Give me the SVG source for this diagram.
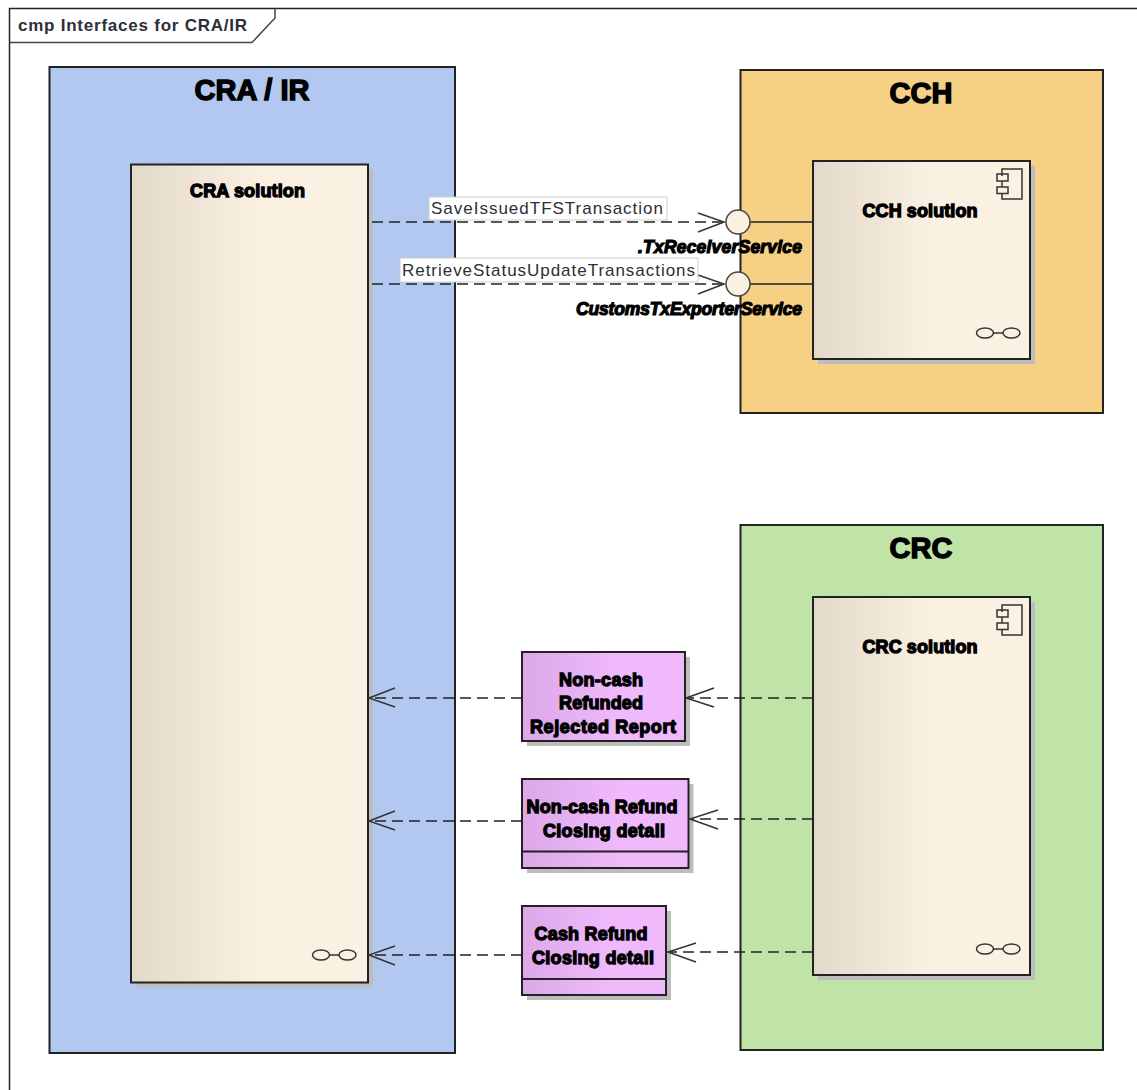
<svg xmlns="http://www.w3.org/2000/svg" width="1137" height="1090" viewBox="0 0 1137 1090">
<style>
.b{stroke:#222;stroke-width:2}
.sh{fill:#bdbdbd}
.t{font-family:"Liberation Sans",Arial,sans-serif;font-weight:bold;fill:#000;stroke:#000;text-anchor:middle}
.h{font-size:29px;stroke-width:1.400}
.s{font-size:18px;stroke-width:1.300}
.i{font-size:17.500px;stroke-width:1.200;font-style:italic;text-anchor:end}
.l{font-family:"Liberation Sans",Arial,sans-serif;font-size:17px;fill:#2b2f3a}
.d{fill:none;stroke:#222;stroke-width:1.500;stroke-dasharray:11 6}
.a{fill:none;stroke:#333;stroke-width:1.500}
.ic{fill:none;stroke:#333;stroke-width:1.500}
</style>
<defs>
<linearGradient id="g"><stop offset="0" stop-color="#e3d9ca"/><stop offset=".55" stop-color="#fbf1e2"/><stop offset="1" stop-color="#fbf1e2"/></linearGradient>
<linearGradient id="p"><stop offset="0" stop-color="#dca8e8"/><stop offset=".6" stop-color="#efb9fb"/><stop offset="1" stop-color="#efb9fb"/></linearGradient>
<g id="link"><ellipse cx="-13" cy="0" rx="8.500" ry="5" fill="none" stroke="#333" stroke-width="1.500"/><ellipse cx="13.500" cy="0" rx="8.500" ry="5" fill="none" stroke="#333" stroke-width="1.500"/><path d="M-4.500 0H5" stroke="#333" stroke-width="1.500"/></g>
<g id="cmp"><path d="M-8-7V-14H12V16H-8V10" class="ic"/><path d="M-8-2V4" class="ic"/><rect x="-13" y="-9" width="11" height="7" fill="#fbf1e2" class="ic"/><rect x="-13" y="4" width="11" height="6.500" fill="#fbf1e2" class="ic"/></g>
</defs>
<rect width="1137" height="1090" fill="#fff"/>
<g id="frame">
<path d="M9.500 1090V8.500H1137" fill="none" stroke="#222" stroke-width="1.500"/>
<path d="M9.500 42.500H252L275 18V8.500" fill="none" stroke="#444" stroke-width="1.500"/>
<text x="18" y="31" font-family="'Liberation Sans',Arial,sans-serif" font-weight="bold" font-size="17px" fill="#2b2f3a" textLength="229">cmp Interfaces for CRA/IR</text>
</g>
<g id="cra-ir">
<rect x="49.500" y="67" width="405.500" height="986" fill="#b3c8f0" class="b"/>
<text x="252" y="100" class="t h">CRA / IR</text>
</g>
<g id="cch">
<rect x="740.500" y="70" width="362.500" height="343" fill="#f6d085" class="b"/>
<text x="921" y="103" class="t h">CCH</text>
</g>
<g id="crc">
<rect x="740.500" y="525" width="362.500" height="525" fill="#c0e4a8" class="b"/>
<text x="921" y="558" class="t h">CRC</text>
</g>
<g id="cra-solution">
<rect x="136" y="169.500" width="237" height="818" class="sh"/>
<rect x="131" y="164.500" width="237" height="818" fill="url(#g)" class="b"/>
<text x="247.500" y="197" class="t s" textLength="115">CRA solution</text>
<use href="#link" x="334" y="955"/>
</g>
<g id="cch-solution">
<rect x="818" y="166" width="217" height="198" class="sh"/>
<rect x="813" y="161" width="217" height="198" fill="url(#g)" class="b"/>
<text x="920" y="217" class="t s" textLength="115">CCH solution</text>
<use href="#cmp" x="1010" y="183"/>
<use href="#link" x="998" y="333"/>
</g>
<g id="crc-solution">
<rect x="818" y="602" width="217" height="378" class="sh"/>
<rect x="813" y="597" width="217" height="378" fill="url(#g)" class="b"/>
<text x="920" y="653" class="t s" textLength="115">CRC solution</text>
<use href="#cmp" x="1010" y="619"/>
<use href="#link" x="998" y="949"/>
</g>
<g id="report-rejected">
<rect x="527" y="657" width="163" height="89" class="sh"/>
<rect x="522" y="652" width="163" height="89" fill="url(#p)" class="b"/>
<text x="601" y="686" class="t s" textLength="84">Non-cash</text>
<text x="601" y="709" class="t s" textLength="84">Refunded</text>
<text x="603" y="733" class="t s" textLength="146">Rejected Report</text>
</g>
<g id="non-cash-closing">
<rect x="527" y="784" width="166.500" height="89" class="sh"/>
<rect x="522" y="779" width="166.500" height="89" fill="url(#p)" class="b"/>
<path d="M522 851.500H688.500" class="b"/>
<text x="602" y="813" class="t s" textLength="151">Non-cash Refund</text>
<text x="604" y="837" class="t s" textLength="122">Closing detail</text>
</g>
<g id="cash-closing">
<rect x="527" y="911" width="144" height="89" class="sh"/>
<rect x="522" y="906" width="144" height="89" fill="url(#p)" class="b"/>
<path d="M522 979H666" class="b"/>
<text x="591" y="940" class="t s" textLength="113">Cash Refund</text>
<text x="593" y="964" class="t s" textLength="122">Closing detail</text>
</g>
<g id="connectors">
<path d="M372 222H724" class="d"/>
<path d="M372 284H724" class="d"/>
<path d="M698 213L724 222L698 232M698 275L724 284L698 294" class="a"/>
<path d="M750 222H813M750 284H813" stroke="#222" stroke-width="1.500"/>
<circle cx="738" cy="222" r="12" fill="#fbf1e2" stroke="#444" stroke-width="1.500"/>
<circle cx="738" cy="284" r="12" fill="#fbf1e2" stroke="#444" stroke-width="1.500"/>
<path d="M522 698H369M522 821H369M522 955H369M813 698H686M813 819H690M813 952H668" class="d"/>
<path d="M395 688L369 698L395 707M395 811L369 821L395 830M395 946L369 955L395 965" class="a"/>
<path d="M714 688L686 698L714 707M718 810L690 819L718 829M696 943L668 952L696 962" class="a"/>
</g>
<g id="labels">
<rect x="429" y="197" width="238" height="23" fill="#fff" stroke="#ccc"/>
<text x="431" y="214" class="l" textLength="232">SaveIssuedTFSTransaction</text>
<rect x="400" y="258" width="298" height="24" fill="#fff" stroke="#ccc"/>
<text x="402" y="276" class="l" textLength="293">RetrieveStatusUpdateTransactions</text>
<text x="802" y="253" class="t i" textLength="164">.TxReceiverService</text>
<text x="802" y="315" class="t i" textLength="226">CustomsTxExporterService</text>
</g>
</svg>
